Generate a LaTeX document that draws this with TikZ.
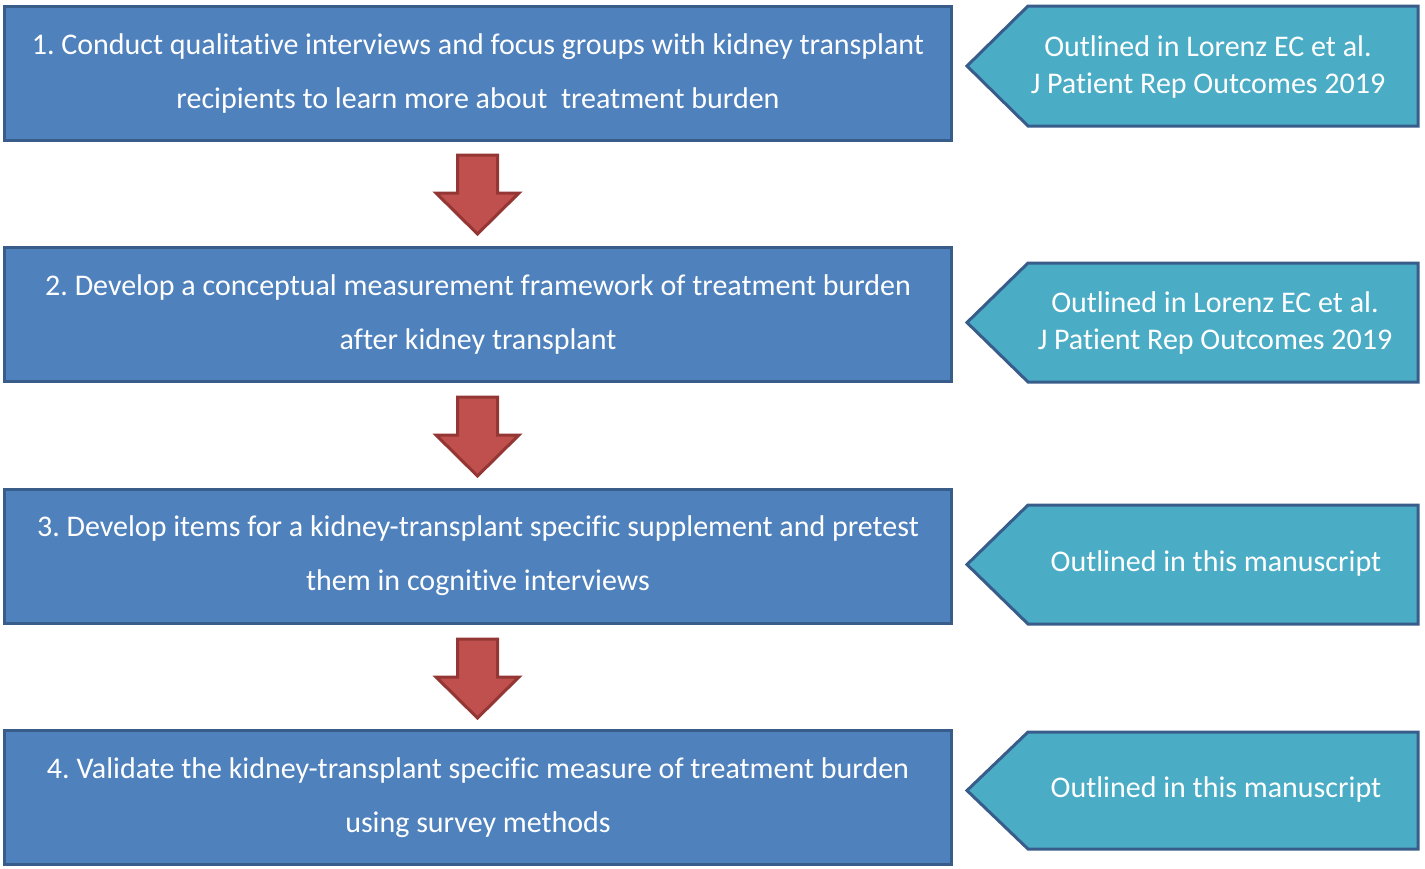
\documentclass[tikz,border=0pt]{standalone}
\usepackage{fontspec}
\setmainfont{Carlito}[Ligatures=NoCommon]
\usetikzlibrary{positioning}
\frenchspacing

\definecolor{stepblue}{HTML}{4F81BD}
\definecolor{stepedge}{HTML}{385D8A}
\definecolor{notecyan}{HTML}{4BACC6}
\definecolor{arrowred}{HTML}{C0504D}
\definecolor{arrowedge}{HTML}{943634}

\tikzset{
  stepbox/.style={draw=stepedge, fill=stepblue, line width=3pt, minimum width=947pt,
    minimum height=134pt, inner sep=0pt, text=white, align=center,
    font=\fontsize{30}{54}\selectfont},
  notetag/.style={draw=stepedge, fill=notecyan, line width=3pt, line join=miter},
  notetext/.style={text=white, align=center, inner sep=0pt, font=\fontsize{30}{36.5}\selectfont},
  blockarrow/.style={draw=arrowedge, fill=arrowred, line width=3pt, line join=miter}
}

\begin{document}
\begin{tikzpicture}[x=1pt, y=-1pt]
        \useasboundingbox (0,0) rectangle (1425,868);

        % steps
        \node[stepbox] (s1) at (478,73.5) {1. Conduct qualitative interviews and focus groups with kidney transplant\\recipients to learn more about\ \ treatment burden};
        \node[stepbox] (s2) at (478,314.5) {2. Develop a conceptual measurement framework of treatment burden\\after kidney transplant};
        \node[stepbox] (s3) at (478,556) {3. Develop items for a kidney-transplant specific supplement and pretest\\them in cognitive interviews};
        \node[stepbox] (s4) at (478,797.5) {4. Validate the kidney-transplant specific measure of treatment burden\\using survey methods};

        % arrows between steps
        \foreach \y in {155, 397, 639} {
            \draw[blockarrow] (457.5,\y) -- (497.5,\y) -- (497.5,\y+38) -- (519,\y+38)
                -- (477.5,\y+79) -- (436,\y+38) -- (457.5,\y+38) -- cycle;
        }

        % tags on the right
        \foreach \t/\b in {6/126, 263/382, 505/624, 732/849} {
            \draw[notetag] (1418,\t) -- (1028,\t) -- (967,{(\t+\b)/2}) -- (1028,\b) -- (1418,\b) -- cycle;
        }

        \node[notetext] (n1) at (1208,67) {Outlined in Lorenz EC et al.\\J Patient Rep Outcomes 2019};
        \node[notetext] (n2) at (1215,323) {Outlined in Lorenz EC et al.\\J Patient Rep Outcomes 2019};
        \node[notetext] (n3) at (1216,563) {Outlined in this manuscript};
        \node[notetext] (n4) at (1216,789) {Outlined in this manuscript};
    \end{tikzpicture}
\end{document}
